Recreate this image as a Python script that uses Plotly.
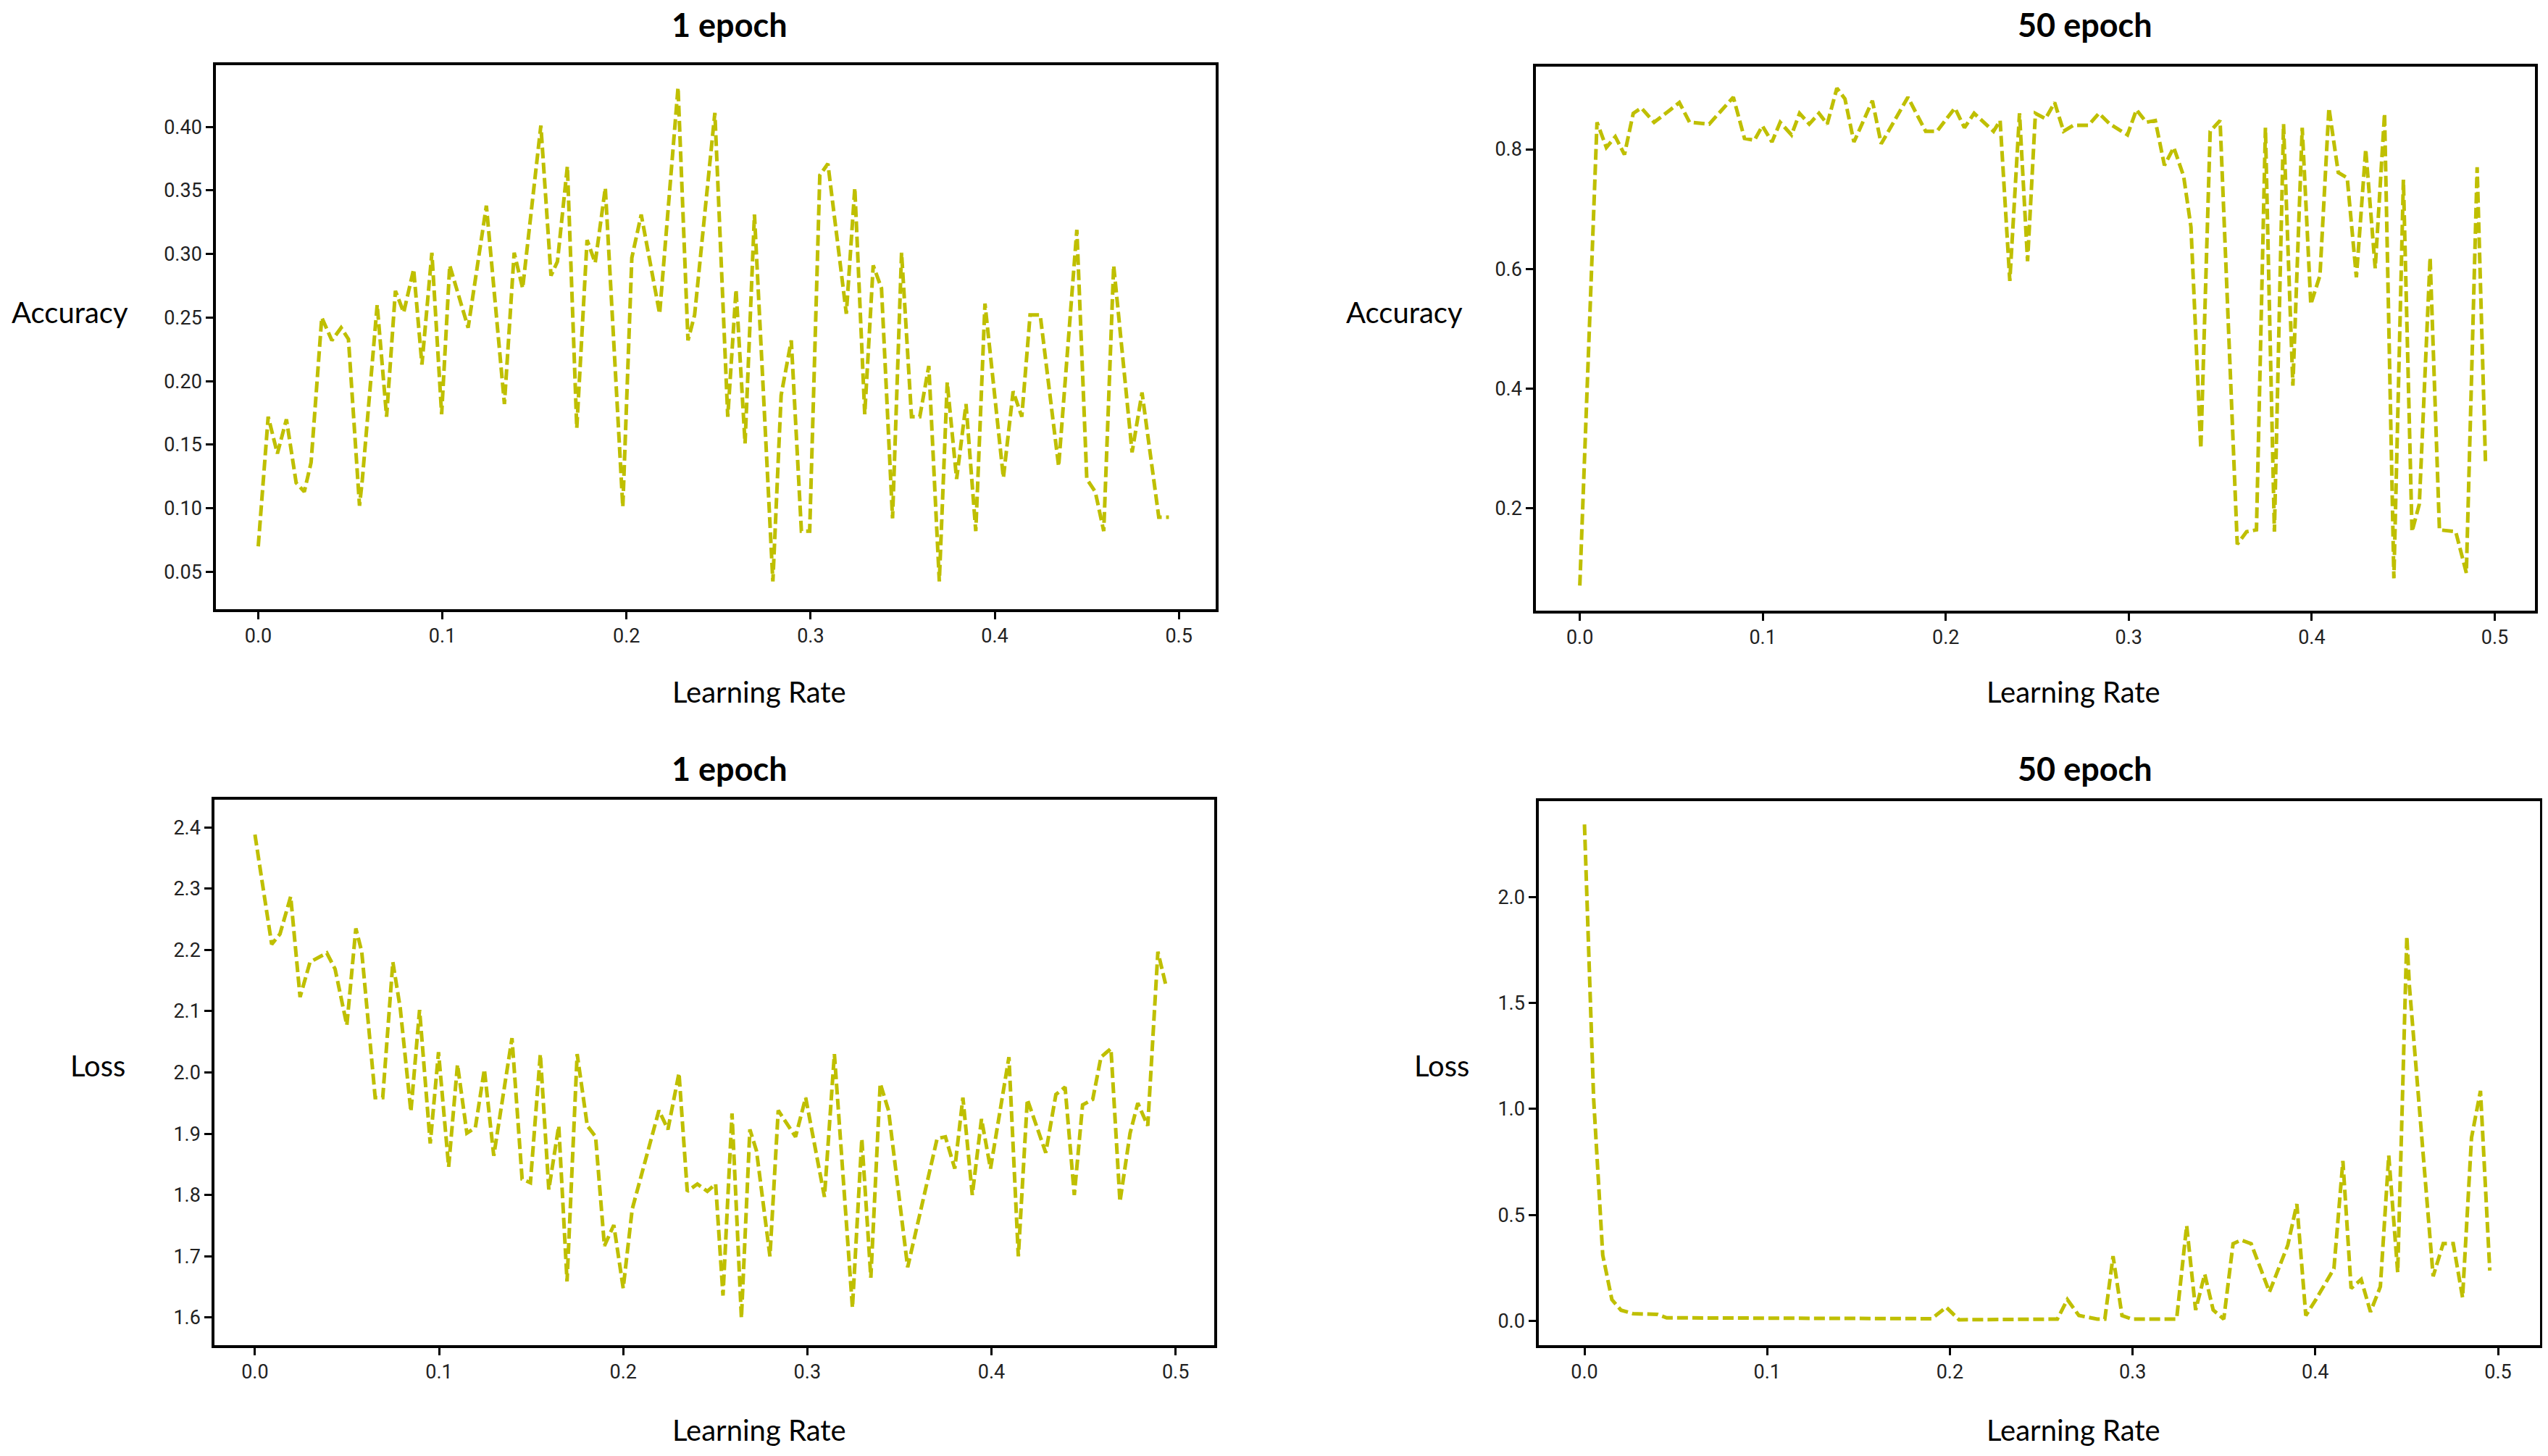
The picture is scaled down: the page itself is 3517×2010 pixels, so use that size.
import plotly.graph_objects as go

# 1 epoch, accuracy vs learning rate
acc1_lr = [0.0, 0.0054, 0.0104, 0.0153, 0.0206, 0.025, 0.0287, 0.0345, 0.040, 0.045,
           0.049, 0.055, 0.0565, 0.0646, 0.0697, 0.0745, 0.079, 0.0844, 0.0889, 0.0943,
           0.0996, 0.104, 0.114, 0.1239, 0.1337, 0.139, 0.1436, 0.1535, 0.159, 0.1625,
           0.1679, 0.173, 0.1786, 0.183, 0.1885, 0.198, 0.2029, 0.208, 0.218, 0.228,
           0.2334, 0.237, 0.248, 0.255, 0.2595, 0.2644, 0.2695, 0.2795, 0.284, 0.2895,
           0.295, 0.2995, 0.305, 0.3094, 0.3194, 0.324, 0.3294, 0.334, 0.3385, 0.3445,
           0.3494, 0.3548, 0.3593, 0.3642, 0.3699, 0.3742, 0.3793, 0.3844, 0.3897, 0.3947,
           0.4047, 0.410, 0.4147, 0.4192, 0.4247, 0.4347, 0.4446, 0.450, 0.4546, 0.4592,
           0.4646, 0.4746, 0.480, 0.4891, 0.4946]
acc1 = [0.07, 0.172, 0.143, 0.170, 0.12, 0.113, 0.136, 0.250, 0.232, 0.242,
        0.233, 0.102, 0.122, 0.26, 0.172, 0.271, 0.254, 0.288, 0.213, 0.301,
        0.174, 0.291, 0.242, 0.338, 0.182, 0.301, 0.273, 0.401, 0.283, 0.294,
        0.369, 0.163, 0.311, 0.293, 0.352, 0.101, 0.297, 0.331, 0.253, 0.431,
        0.232, 0.252, 0.411, 0.172, 0.272, 0.151, 0.331, 0.0425, 0.189, 0.232,
        0.082, 0.082, 0.362, 0.371, 0.253, 0.352, 0.174, 0.291, 0.273, 0.092,
        0.301, 0.172, 0.172, 0.212, 0.0425, 0.199, 0.123, 0.182, 0.082, 0.261,
        0.124, 0.192, 0.172, 0.252, 0.252, 0.133, 0.319, 0.123, 0.113, 0.082,
        0.291, 0.144, 0.191, 0.093, 0.093]

# 50 epoch, accuracy
acc50_lr = [0.0, 0.0094, 0.0145, 0.0194, 0.0244, 0.0292, 0.0336, 0.0406, 0.0495, 0.0544,
            0.060, 0.0707, 0.0839, 0.090, 0.0954, 0.0998, 0.105, 0.1095, 0.1157, 0.1201,
            0.1254, 0.1307, 0.1352, 0.1405, 0.1449, 0.1498, 0.1599, 0.1647, 0.1793, 0.189,
            0.1952, 0.205, 0.2102, 0.2155, 0.2261, 0.2297, 0.235, 0.2403, 0.2447, 0.249,
            0.2545, 0.2595, 0.2644, 0.2698, 0.278, 0.2837, 0.2897, 0.2993, 0.3042, 0.3096,
            0.3145, 0.3195, 0.3246, 0.330, 0.334, 0.3394, 0.3445, 0.3499, 0.3593, 0.3644,
            0.3698, 0.3747, 0.3796, 0.3846, 0.3897, 0.3948, 0.3995, 0.4045, 0.4094, 0.4145,
            0.4194, 0.4244, 0.4295, 0.4347, 0.4398, 0.4449, 0.4501, 0.4548, 0.4588, 0.4647,
            0.4698, 0.4787, 0.4845, 0.4904, 0.495]
acc50 = [0.071, 0.845, 0.803, 0.821, 0.791, 0.860, 0.869, 0.845, 0.866, 0.878,
         0.845, 0.842, 0.887, 0.818, 0.815, 0.839, 0.812, 0.845, 0.824, 0.860,
         0.842, 0.860, 0.842, 0.902, 0.884, 0.812, 0.881, 0.809, 0.887, 0.830,
         0.830, 0.869, 0.836, 0.860, 0.830, 0.848, 0.580, 0.860, 0.613, 0.860,
         0.851, 0.878, 0.830, 0.840, 0.840, 0.860, 0.842, 0.824, 0.866, 0.845,
         0.848, 0.773, 0.803, 0.755, 0.670, 0.300, 0.830, 0.848, 0.140, 0.161,
         0.164, 0.836, 0.161, 0.842, 0.405, 0.836, 0.541, 0.589, 0.869, 0.761,
         0.752, 0.586, 0.800, 0.601, 0.860, 0.083, 0.749, 0.161, 0.207, 0.619,
         0.164, 0.161, 0.092, 0.770, 0.273]

# 1 epoch, loss
loss1_lr = [0.0, 0.0091, 0.0136, 0.0194, 0.0245, 0.0299, 0.039, 0.0435, 0.0499, 0.0548,
            0.058, 0.0653, 0.0694, 0.0749, 0.0789, 0.0847, 0.0894, 0.0952, 0.0997, 0.1052,
            0.110, 0.1151, 0.1197, 0.1246, 0.1297, 0.1396, 0.1451, 0.1496, 0.155, 0.1596,
            0.165, 0.1695, 0.175, 0.1805, 0.185, 0.1898, 0.1949, 0.2, 0.2049, 0.2194,
            0.2243, 0.2303, 0.2348, 0.2403, 0.2457, 0.2502, 0.2542, 0.2591, 0.2642, 0.2688,
            0.2724, 0.2797, 0.2842, 0.2936, 0.2991, 0.3093, 0.3147, 0.3245, 0.3296, 0.3345,
            0.3396, 0.3441, 0.3545, 0.3705, 0.375, 0.3801, 0.3845, 0.3896, 0.3946, 0.3995,
            0.4095, 0.4146, 0.4195, 0.4295, 0.435, 0.44, 0.445, 0.4495, 0.455, 0.4595,
            0.4649, 0.4698, 0.4753, 0.4795, 0.4849, 0.4904, 0.4949]
loss1 = [2.388, 2.209, 2.226, 2.287, 2.123, 2.180, 2.195, 2.169, 2.077, 2.235,
         2.197, 1.959, 1.959, 2.180, 2.105, 1.936, 2.102, 1.884, 2.033, 1.846,
         2.013, 1.901, 1.910, 2.005, 1.864, 2.056, 1.826, 1.820, 2.030, 1.809,
         1.913, 1.659, 2.030, 1.913, 1.895, 1.717, 1.751, 1.648, 1.777, 1.938,
         1.907, 1.999, 1.806, 1.818, 1.806, 1.818, 1.636, 1.933, 1.599, 1.907,
         1.872, 1.700, 1.938, 1.895, 1.959, 1.797, 2.030, 1.616, 1.892, 1.665,
         1.982, 1.938, 1.682, 1.892, 1.895, 1.843, 1.959, 1.800, 1.924, 1.843,
         2.025, 1.700, 1.956, 1.869, 1.964, 1.976, 1.800, 1.947, 1.956, 2.025,
         2.039, 1.789, 1.901, 1.950, 1.913, 2.197, 2.140]

# 50 epoch, loss
loss50_lr = [0.0, 0.005, 0.01, 0.015, 0.02, 0.0265, 0.04, 0.045, 0.19, 0.198,
             0.205, 0.2588, 0.2643, 0.2706, 0.2806, 0.2848, 0.2893, 0.2942, 0.2996, 0.3241,
             0.3296, 0.3345, 0.3395, 0.3441, 0.3499, 0.355, 0.3595, 0.3649, 0.3749, 0.3849,
             0.3899, 0.3948, 0.4003, 0.4102, 0.4151, 0.4196, 0.4251, 0.4302, 0.4356, 0.4402,
             0.4451, 0.4501, 0.4515, 0.4645, 0.47, 0.4755, 0.4806, 0.4855, 0.4904, 0.4955]
loss50 = [2.342, 1.05, 0.31, 0.10, 0.05, 0.034, 0.03, 0.014, 0.01, 0.064,
          0.005, 0.008, 0.10, 0.025, 0.008, 0.008, 0.305, 0.025, 0.008, 0.008,
          0.449, 0.051, 0.220, 0.051, 0.008, 0.364, 0.381, 0.364, 0.136, 0.356,
          0.551, 0.025, 0.10, 0.246, 0.754, 0.153, 0.195, 0.042, 0.161, 0.780,
          0.229, 1.814, 1.58, 0.21, 0.364, 0.364, 0.110, 0.864, 1.085, 0.237]

x_ticks = [0.0, 0.1, 0.2, 0.3, 0.4, 0.5]

W, H = 3517, 2010
OFF = 8  # page body margin in the browser


def px_x(x):
    return (x - OFF) / W


def px_y(y):
    return 1 - (y - OFF) / H


LINE_COLOR = "#bfbf00"
TICK_FONT = dict(family="Liberation Sans Narrow, Roboto, sans-serif", size=27, color="#222222")
LABEL_FONT = dict(family="Lato, Open Sans, sans-serif", size=40, color="black")
TITLE_FONT = dict(family="Lato, Open Sans, sans-serif", size=45, color="black")

# (x, y, x-px, y-px (top, bottom), x-range, y-range, y-ticks, y-format)
panels = [
    (acc1_lr, acc1, (298, 1678), (90, 841), [-0.023, 0.520], [0.0206, 0.4485],
     [0.05, 0.10, 0.15, 0.20, 0.25, 0.30, 0.35, 0.40], ".2f"),
    (acc50_lr, acc50, (2120, 3499), (92, 843), [-0.024, 0.522], [0.029, 0.938],
     [0.2, 0.4, 0.6, 0.8], ".1f"),
    (loss1_lr, loss1, (296, 1676), (1104, 1857), [-0.022, 0.521], [1.555, 2.445],
     [1.6, 1.7, 1.8, 1.9, 2.0, 2.1, 2.2, 2.3, 2.4], ".1f"),
    (loss50_lr, loss50, (2124, 3506), (1106, 1857), [-0.025, 0.523], [-0.115, 2.452],
     [0.0, 0.5, 1.0, 1.5, 2.0], ".1f"),
]

fig = go.Figure()
layout = {}
for i, (xs, ys, xpx, ypx, xr, yr, yt, yfmt) in enumerate(panels):
    assert len(xs) == len(ys)
    n = "" if i == 0 else str(i + 1)
    fig.add_trace(go.Scatter(
        x=xs, y=ys, mode="lines", xaxis="x" + n, yaxis="y" + n,
        line=dict(color=LINE_COLOR, width=5, dash="15px,6px"),
        showlegend=False,
    ))
    axis_common = dict(
        showline=True, linecolor="black", linewidth=3.5, mirror=True,
        showgrid=False, zeroline=False, ticks="outside", ticklen=10,
        tickwidth=3, tickcolor="black", tickfont=TICK_FONT,
    )
    layout["xaxis" + n] = dict(
        domain=[px_x(xpx[0]), px_x(xpx[1])], range=xr, anchor="y" + n,
        tickvals=x_ticks, tickformat=".1f", **axis_common,
    )
    layout["yaxis" + n] = dict(
        domain=[px_y(ypx[1]), px_y(ypx[0])], range=yr, anchor="x" + n,
        tickvals=yt, tickformat=yfmt, **axis_common,
    )

fig.update_layout(**layout)

annotations = []
# panel titles (pixel centres in the target picture)
for text, x, y in [("1 epoch", 1007, 34), ("50 epoch", 2878, 34),
                   ("1 epoch", 1007, 1061), ("50 epoch", 2878, 1061)]:
    annotations.append(dict(text="<b>" + text + "</b>", x=px_x(x), y=px_y(y),
                            xref="paper", yref="paper", showarrow=False, font=TITLE_FONT,
                            xanchor="center", yanchor="middle"))
# axis labels
for text, x, y in [("Accuracy", 96, 431), ("Accuracy", 1938, 431),
                   ("Loss", 135, 1471), ("Loss", 1990, 1471),
                   ("Learning Rate", 1048, 955), ("Learning Rate", 2862, 955),
                   ("Learning Rate", 1048, 1974), ("Learning Rate", 2862, 1974)]:
    annotations.append(dict(text=text, x=px_x(x), y=px_y(y), xref="paper", yref="paper",
                            showarrow=False, font=LABEL_FONT,
                            xanchor="center", yanchor="middle"))

fig.update_layout(
    width=W,
    height=H,
    margin=dict(l=0, r=0, t=0, b=0),
    paper_bgcolor="white",
    plot_bgcolor="white",
    annotations=annotations,
)

fig.write_html("out.html")
